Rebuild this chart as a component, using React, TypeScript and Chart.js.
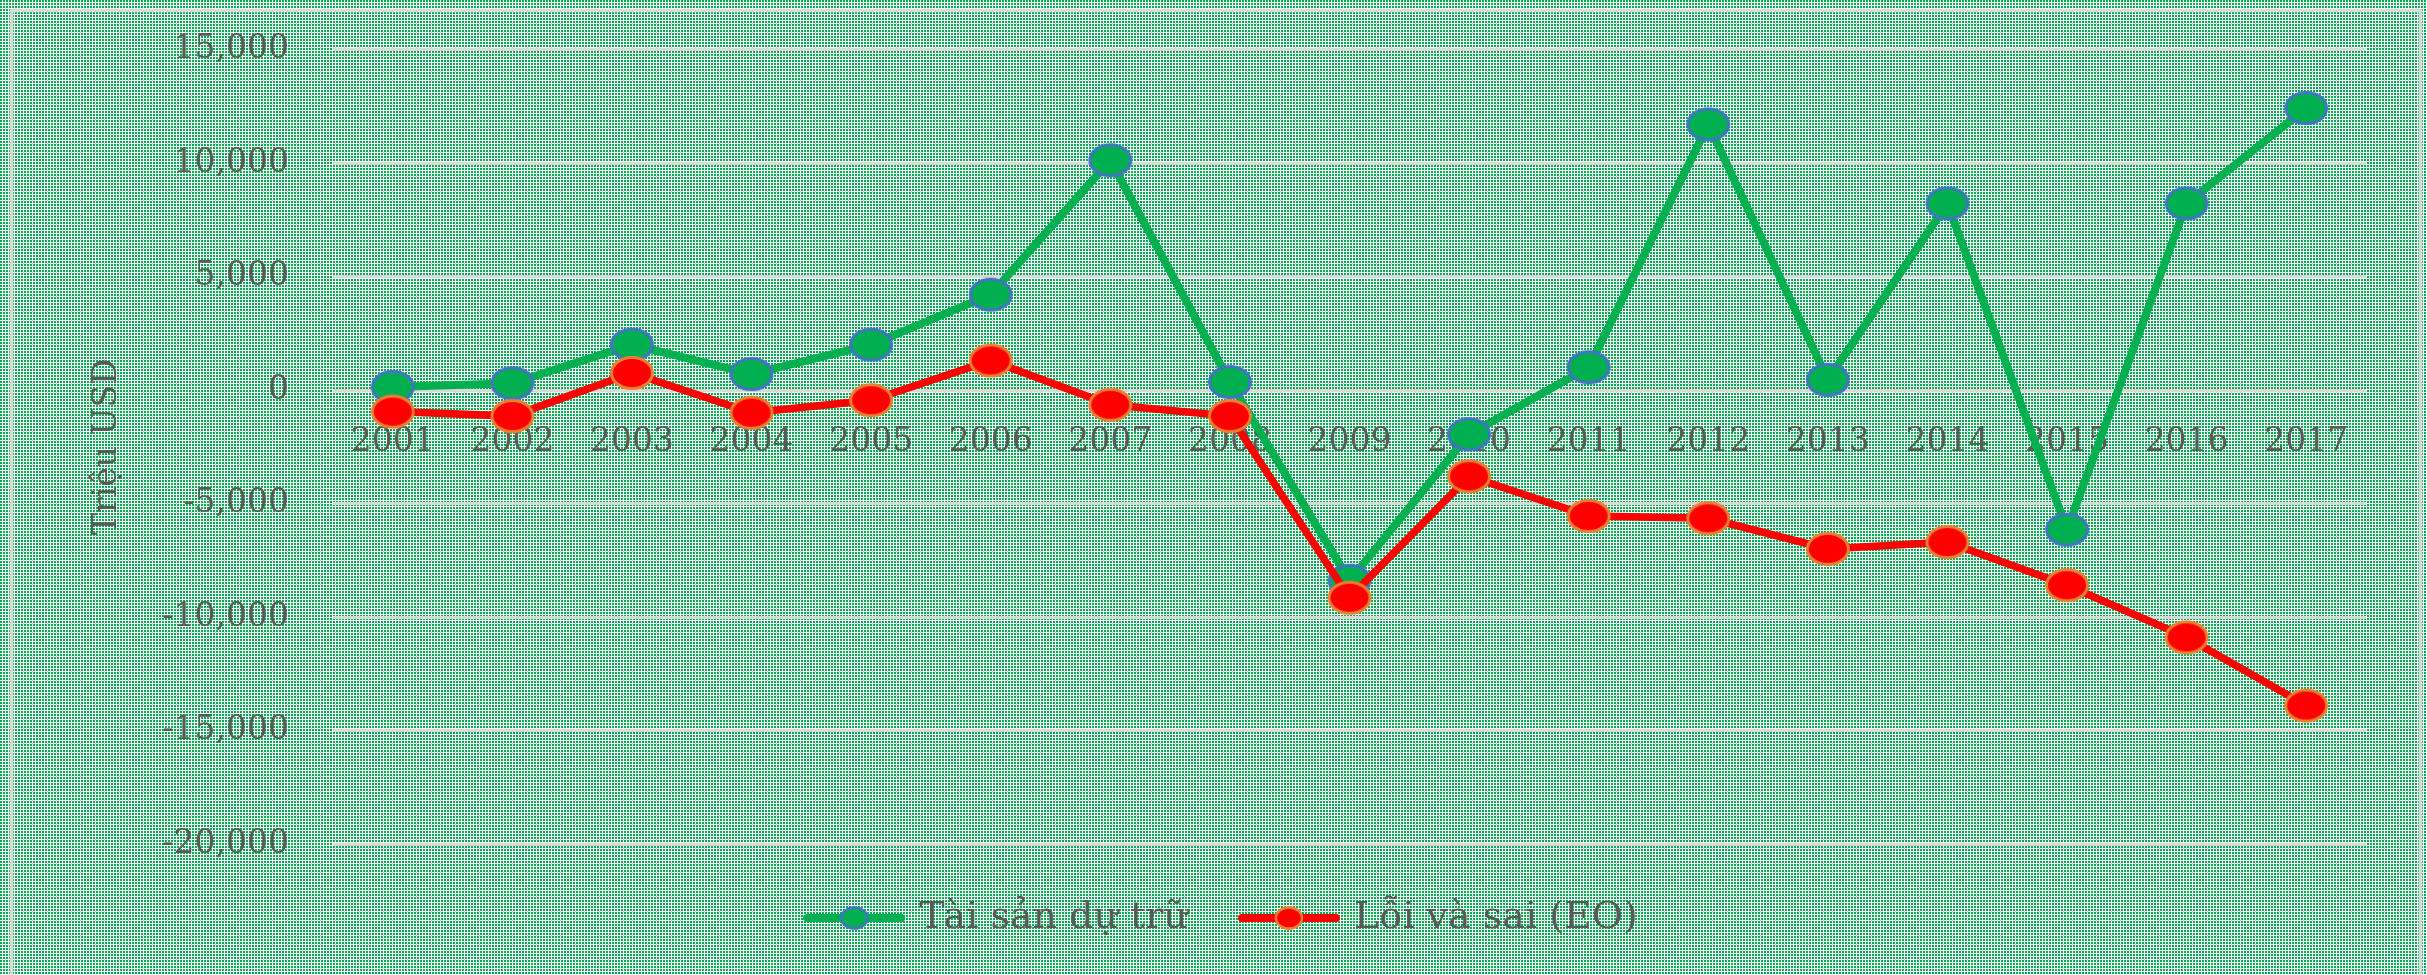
import React, { useEffect, useRef } from 'react';
import { Chart, registerables } from 'chart.js';

Chart.register(...registerables);

const years = ['2001', '2002', '2003', '2004', '2005', '2006', '2007', '2008', '2009', '2010', '2011', '2012', '2013', '2014', '2015', '2016', '2017'];
const reserveAssets = [130, 300, 2000, 700, 2000, 4200, 10120, 350, -8400, -1950, 1000, 11700, 450, 8220, -6150, 8220, 12420];
const errorsOmissions = [-950, -1150, 750, -1000, -450, 1300, -650, -1150, -9150, -3800, -5550, -5650, -7000, -6700, -8600, -10900, -13900];
const seriesNames = ['Tài sản dự trữ', 'Lỗi và sai (EO)'];
const axisTitle = 'Triệu USD';
const yMin = -20000;
const yMax = 15000;
const yStep = 5000;

const GREEN = '#00B050';
const BLUE = '#4472C4';
const RED = '#FF0000';
const ORANGE = '#ED7D31';
const TEXT = '#595959';
const GRID = '#d9d9d9';
const FONT = 'DejaVu Serif';

function makePattern(): CanvasPattern | string {
  const c = document.createElement('canvas');
  c.width = 3;
  c.height = 3;
  const g = c.getContext('2d');
  if (!g) return '#9be0ba';
  g.fillStyle = '#ffffff';
  g.fillRect(0, 0, 3, 3);
  g.fillStyle = GREEN;
  g.fillRect(0, 0, 2, 2);
  const p = g.createPattern(c, 'repeat');
  return p || '#9be0ba';
}

function makeMarker(w: number, h: number, rx: number, ry: number, fill: string, stroke: string, lw: number, lineColor?: string, lineW?: number): HTMLCanvasElement {
  const c = document.createElement('canvas');
  c.width = w;
  c.height = h;
  const g = c.getContext('2d');
  if (!g) return c;
  if (lineColor) {
    g.strokeStyle = lineColor;
    g.lineWidth = lineW || 8;
    g.lineCap = 'round';
    g.beginPath();
    g.moveTo(4, h / 2);
    g.lineTo(w - 4, h / 2);
    g.stroke();
  }
  g.beginPath();
  g.ellipse(w / 2, h / 2, rx, ry, 0, 0, Math.PI * 2);
  g.fillStyle = fill;
  g.fill();
  g.lineWidth = lw;
  g.strokeStyle = stroke;
  g.stroke();
  return c;
}

export default function App() {
  const ref = useRef<HTMLCanvasElement | null>(null);

  useEffect(() => {
    if (!ref.current) return;
    const pattern = makePattern();
    const greenPt = makeMarker(48, 38, 20.5, 15.5, GREEN, BLUE, 3);
    const redPt = makeMarker(48, 38, 20.5, 15.5, RED, ORANGE, 3);
    const greenLeg = makeMarker(102, 30, 13, 10.5, GREEN, BLUE, 2.5, GREEN, 8);
    const redLeg = makeMarker(102, 30, 13, 10.5, RED, ORANGE, 2.5, RED, 8);

    const bgPlugin = {
      id: 'bgPattern',
      beforeDraw(chart: any) {
        const ctx = chart.ctx;
        ctx.save();
        ctx.fillStyle = pattern;
        ctx.fillRect(0, 0, chart.width, chart.height);
        ctx.strokeStyle = GRID;
        ctx.lineWidth = 3.5;
        ctx.strokeRect(11.5, 10.5, chart.width - 18, chart.height + 100);
        ctx.restore();
      },
    };

    const legendShift = {
      id: 'legendShift',
      afterLayout(chart: any) {
        const l = chart.legend;
        if (l) {
          l.left += 35;
          l.right += 35;
        }
      },
    };

    const chart = new Chart(ref.current, {
      type: 'line',
      data: {
        labels: years,
        datasets: [
          {
            label: seriesNames[0],
            data: reserveAssets,
            borderColor: GREEN,
            backgroundColor: GREEN,
            borderWidth: 8,
            pointStyle: greenPt as any,
            tension: 0,
            fill: false,
            order: 1,
          },
          {
            label: seriesNames[1],
            data: errorsOmissions,
            borderColor: RED,
            backgroundColor: RED,
            borderWidth: 7.5,
            pointStyle: redPt as any,
            tension: 0,
            fill: false,
            order: 0,
          },
        ],
      },
      options: {
        animation: false,
        responsive: true,
        maintainAspectRatio: false,
        layout: { padding: { left: 10, right: 61, top: 49.5, bottom: 28 } },
        plugins: {
          tooltip: { enabled: false },
          legend: {
            display: true,
            position: 'bottom',
            labels: {
              usePointStyle: true,
              pointStyleWidth: 92,
              padding: 55,
              color: TEXT,
              font: { family: FONT, size: 38 },
              generateLabels: () => [
                { text: seriesNames[0], pointStyle: greenLeg as any, fillStyle: GREEN, strokeStyle: BLUE, lineWidth: 0, hidden: false, datasetIndex: 0, fontColor: TEXT },
                { text: seriesNames[1], pointStyle: redLeg as any, fillStyle: RED, strokeStyle: ORANGE, lineWidth: 0, hidden: false, datasetIndex: 1, fontColor: TEXT },
              ],
            },
          },
        },
        scales: {
          x: {
            type: 'category',
            position: { y: 0 } as any,
            offset: true,
            grid: { display: false, drawTicks: false },
            border: { display: false },
            ticks: {
              padding: 33,
              color: TEXT,
              font: { family: FONT, size: 33 },
              maxRotation: 0,
              autoSkip: false,
            },
          },
          y: {
            min: yMin,
            max: yMax,
            grid: { color: GRID, lineWidth: 3, drawTicks: false },
            border: { display: false },
            ticks: {
              stepSize: yStep,
              padding: 44,
              color: TEXT,
              font: { family: FONT, size: 33 },
              callback: (v: any) => Number(v).toLocaleString('en-US'),
            },
            title: {
              display: true,
              text: axisTitle,
              color: TEXT,
              font: { family: FONT, size: 33 },
              padding: { top: 78, bottom: 0 },
            },
            afterFit: (s: any) => {
              s.width = 323;
              s.paddingTop = 0;
              s.paddingBottom = 0;
            },
          },
        },
      },
      plugins: [bgPlugin, legendShift],
    });

    return () => {
      chart.destroy();
    };
  }, []);

  return (
    <div style={{ position: 'fixed', left: 0, top: 0, width: 2427, height: 975 }}>
      <canvas ref={ref} />
    </div>
  );
}
